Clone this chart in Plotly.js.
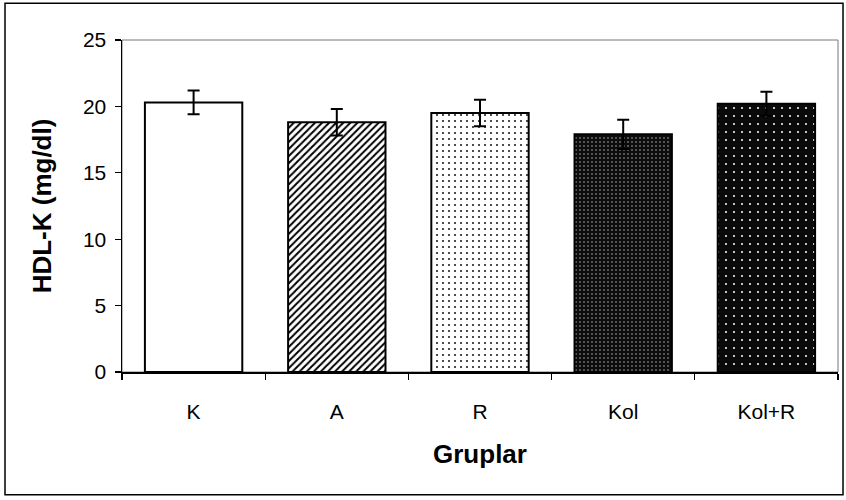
<!DOCTYPE html>
<html><head><meta charset="utf-8">
<script src="https://cdn.plot.ly/plotly-3.0.1.min.js"></script>
<style>html,body{margin:0;padding:0;background:#fff;}</style>
</head><body>
<div id="chart" style="width:846px;height:500px;"></div>
<script>
const groups = ["K", "A", "R", "Kol", "Kol+R"];
const hdlMeans = [20.3, 18.8, 19.5, 17.9, 20.2];
const hdlErrors = [0.9, 1.0, 1.0, 1.1, 0.9];
const yTicks = [0, 5, 10, 15, 20, 25];

const fillStyles = [
  {color: "#ffffff", pattern: {shape: ""}},
  {color: "#ffffff", pattern: {shape: "/", fgcolor: "#000000", bgcolor: "#ffffff", size: 5, solidity: 0.4, fillmode: "replace"}},
  {color: "#ffffff", pattern: {shape: ".", fgcolor: "#222222", bgcolor: "#ffffff", size: 6, solidity: 0.1, fillmode: "replace"}},
  {color: "#0c0c0c", pattern: {shape: ".", fgcolor: "#6a6a6a", bgcolor: "#0c0c0c", size: 4, solidity: 0.2, fillmode: "replace"}},
  {color: "#0a0a0a", pattern: {shape: ".", fgcolor: "#e8e8e8", bgcolor: "#0a0a0a", size: 8, solidity: 0.06, fillmode: "replace"}}
];

const traces = groups.map((g, i) => ({
  type: "bar",
  name: g,
  x: [g],
  y: [hdlMeans[i]],
  error_y: {type: "data", array: [hdlErrors[i]], visible: true, color: "#000", thickness: 2, width: 6},
  marker: {
    color: fillStyles[i].color,
    line: {color: "#000", width: 2},
    pattern: fillStyles[i].pattern
  },
  hoverinfo: "none"
}));

const FONT = "Liberation Sans, Arial, sans-serif";

const layout = {
  width: 846, height: 500,
  margin: {l: 122, r: 8, t: 40, b: 128},
  paper_bgcolor: "#fff", plot_bgcolor: "#fff",
  showlegend: false,
  barmode: "overlay",
  bargap: 0.32,
  font: {family: FONT, color: "#000"},
  xaxis: {
    type: "category",
    categoryorder: "array", categoryarray: groups,
    showline: true, linecolor: "#000", linewidth: 1.5,
    ticks: "outside", ticklen: 6, tickcolor: "#000", tickwidth: 1.2,
    tickson: "boundaries",
    ticklabelstandoff: 20,
    tickfont: {size: 21, family: FONT},
    showgrid: false, zeroline: false,
    title: {text: "Gruplar", font: {size: 26, family: FONT, weight: "bold"}, standoff: 23}
  },
  yaxis: {
    range: [0, 25],
    tickvals: yTicks,
    showline: true, linecolor: "#000", linewidth: 1.5,
    ticks: "outside", ticklen: 6, tickcolor: "#000", tickwidth: 1.2,
    ticklabelstandoff: 4,
    tickfont: {size: 21, family: FONT},
    showgrid: false, zeroline: false,
    title: {text: "HDL-K (mg/dl)", font: {size: 26, family: FONT, weight: "bold"}, standoff: 24}
  },
  shapes: [
    {type: "rect", xref: "paper", yref: "paper", x0: 0, x1: 1, y0: 0, y1: 1,
     line: {color: "#777", width: 1}, layer: "below"},
    {type: "rect", xref: "paper", yref: "paper", x0: -0.1634, x1: 1.007, y0: -0.370, y1: 1.111,
     line: {color: "#000", width: 1.5}}
  ]
};

Plotly.newPlot("chart", traces, layout, {displayModeBar: false, staticPlot: true});
</script>
</body></html>
